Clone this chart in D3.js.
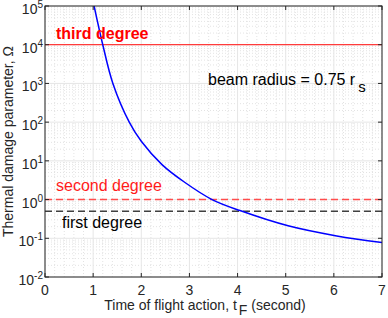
<!DOCTYPE html>
<html>
<head>
<meta charset="utf-8">
<script src="https://cdn.jsdelivr.net/npm/d3@7"></script>
<style>
  body { margin: 0; background: #fff; }
  text { font-family: "Liberation Sans", Arial, Helvetica, sans-serif; }
</style>
</head>
<body>
<svg id="chart" width="388" height="318"></svg>
<script>
// values
const tF = [1.02, 1.2, 1.41, 1.75, 2.0, 2.43, 2.9, 3.47, 4.05, 5.05, 6.06, 7.0]
const omega = [1e5, 1e4, 1e3, 100, 32, 8, 2.8, 1, 0.52, 0.21, 0.115, 0.078]
const thirdDeg = 1e4
const secondDeg = 1
const firstDeg = 0.5
const xTicks = [0, 1, 2, 3, 4, 5, 6, 7]
const yExps = [-2, -1, 0, 1, 2, 3, 4, 5]

const pL = 45, pT = 6, pR = 382, pB = 277
const svg = d3.select('#chart')
const axisCol = '#262626'

const x = d3.scaleLinear().domain([0, 7]).range([pL, pR])
const y = d3.scaleLog().domain([1e-2, 1e5]).range([pB, pT])

// minor grid
const xMinor = d3.range(0, 7.001, 0.2).filter(v => Math.abs(v - Math.round(v)) > 1e-6)
svg.append('g').selectAll('line').data(xMinor).enter().append('line')
    .attr('x1', d => x(d)).attr('x2', d => x(d))
    .attr('y1', pT).attr('y2', pB)
    .attr('stroke', '#dcdcdc').attr('stroke-width', 0.8)
    .attr('stroke-dasharray', '1 2')
const yMinor = []
yExps.slice(0, -1).forEach(e => { for (let k = 2; k < 10; k++) yMinor.push(k * Math.pow(10, e)) })
svg.append('g').selectAll('line').data(yMinor).enter().append('line')
    .attr('x1', pL).attr('x2', pR)
    .attr('y1', d => y(d)).attr('y2', d => y(d))
    .attr('stroke', '#dcdcdc').attr('stroke-width', 0.8)
    .attr('stroke-dasharray', '1 2')

// major grid
svg.append('g').selectAll('line').data(xTicks).enter().append('line')
    .attr('x1', d => x(d)).attr('x2', d => x(d))
    .attr('y1', pT).attr('y2', pB)
    .attr('stroke', '#e6e6e6').attr('stroke-width', 1)
svg.append('g').selectAll('line').data(yExps).enter().append('line')
    .attr('x1', pL).attr('x2', pR)
    .attr('y1', d => y(Math.pow(10, d))).attr('y2', d => y(Math.pow(10, d)))
    .attr('stroke', '#e6e6e6').attr('stroke-width', 1)

// threshold lines
svg.append('line')
    .attr('x1', pL).attr('x2', pR)
    .attr('y1', y(thirdDeg)).attr('y2', y(thirdDeg))
    .attr('stroke', '#ff3b3b').attr('stroke-width', 1.2)
svg.append('line')
    .attr('x1', pL).attr('x2', pR)
    .attr('y1', y(secondDeg)).attr('y2', y(secondDeg))
    .attr('stroke', '#ff4d4d').attr('stroke-width', 1.5)
    .attr('stroke-dasharray', '7 4')
svg.append('line')
    .attr('x1', pL).attr('x2', pR)
    .attr('y1', y(firstDeg)).attr('y2', y(firstDeg))
    .attr('stroke', '#404040').attr('stroke-width', 1.3)
    .attr('stroke-dasharray', '7 4')

// curve
svg.append('clipPath').attr('id', 'clip').append('rect')
    .attr('x', pL).attr('y', pT).attr('width', pR - pL).attr('height', pB - pT)
const line = d3.line()
    .x((d, i) => x(tF[i]))
    .y(d => y(d))
    .curve(d3.curveCatmullRom.alpha(0.5))
svg.append('path')
    .datum(omega)
    .attr('d', line)
    .attr('clip-path', 'url(#clip)')
    .attr('fill', 'none')
    .attr('stroke', '#0000ff')
    .attr('stroke-width', 1.5)

// box and ticks
svg.append('rect')
    .attr('x', pL).attr('y', pT).attr('width', pR - pL).attr('height', pB - pT)
    .attr('fill', 'none').attr('stroke', axisCol).attr('stroke-width', 1)
const tk = svg.append('g').attr('stroke', axisCol).attr('stroke-width', 1)
xTicks.forEach(v => {
    tk.append('line').attr('x1', x(v)).attr('x2', x(v)).attr('y1', pB).attr('y2', pB - 4)
    tk.append('line').attr('x1', x(v)).attr('x2', x(v)).attr('y1', pT).attr('y2', pT + 4)
})
yExps.forEach(e => {
    const yy = y(Math.pow(10, e))
    tk.append('line').attr('x1', pL).attr('x2', pL + 4).attr('y1', yy).attr('y2', yy)
    tk.append('line').attr('x1', pR).attr('x2', pR - 4).attr('y1', yy).attr('y2', yy)
})

// tick labels
svg.append('g').selectAll('text').data(xTicks).enter().append('text')
    .attr('x', d => x(d)).attr('y', 295)
    .attr('text-anchor', 'middle')
    .attr('font-size', 14).attr('fill', axisCol)
    .text(d => d)
const yl = svg.append('g').selectAll('text').data(yExps).enter().append('text')
    .attr('x', 43).attr('y', d => y(Math.pow(10, d)) + 8)
    .attr('text-anchor', 'end')
    .attr('font-size', 14).attr('fill', axisCol)
yl.append('tspan').text('10')
yl.append('tspan').attr('dy', -6).attr('font-size', 10).text(d => d)

// axis titles
const xt = svg.append('text')
    .attr('x', 205).attr('y', 310)
    .attr('text-anchor', 'middle')
    .attr('font-size', 14).attr('fill', axisCol)
xt.append('tspan').text('Time of flight action, t')
xt.append('tspan').attr('dy', 5).attr('dx', 2).text('F')
xt.append('tspan').attr('dy', -5).text(' (second)')

svg.append('text')
    .attr('transform', 'translate(13,' + ((pT + pB) / 2) + ') rotate(-90)')
    .attr('text-anchor', 'middle')
    .attr('font-size', 14).attr('fill', axisCol)
    .text('Thermal damage parameter, Ω')

// annotations
svg.append('text')
    .attr('x', 56).attr('y', 39)
    .attr('font-size', 16).attr('font-weight', 'bold').attr('fill', '#ff0000')
    .text('third degree')
svg.append('text')
    .attr('x', 56).attr('y', 191)
    .attr('font-size', 16).attr('fill', '#ff1a1a')
    .text('second degree')
svg.append('text')
    .attr('x', 62).attr('y', 228)
    .attr('font-size', 16).attr('fill', '#000')
    .text('first degree')
const br = svg.append('text')
    .attr('x', 208).attr('y', 85)
    .attr('font-size', 16).attr('fill', '#000')
br.append('tspan').text('beam radius = 0.75 r')
br.append('tspan').attr('dy', 7).attr('dx', 3).attr('font-size', 15).text('s')
</script>
</body>
</html>
